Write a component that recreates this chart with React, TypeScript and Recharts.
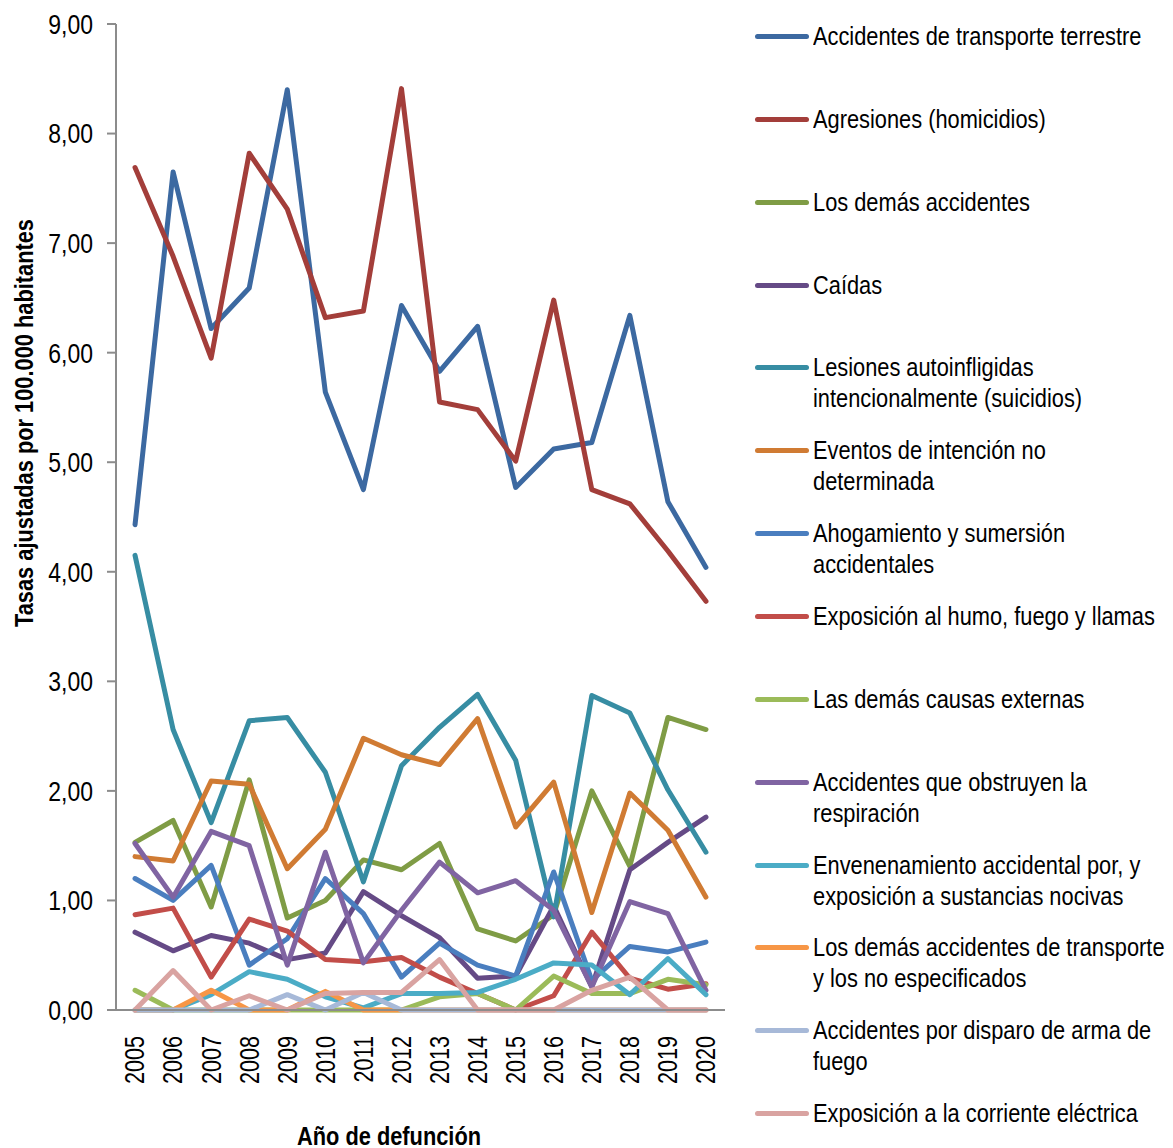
import React from 'react';
import { LineChart, Line, XAxis, YAxis, Label } from 'recharts';

const years = [2005, 2006, 2007, 2008, 2009, 2010, 2011, 2012, 2013, 2014, 2015, 2016, 2017, 2018, 2019, 2020];
const yTicks = [0, 1, 2, 3, 4, 5, 6, 7, 8, 9];

const transporte = [4.43, 7.65, 6.22, 6.59, 8.40, 5.64, 4.75, 6.43, 5.83, 6.24, 4.77, 5.12, 5.18, 6.34, 4.64, 4.04];
const agresiones = [7.69, 6.88, 5.95, 7.82, 7.31, 6.32, 6.38, 8.41, 5.55, 5.48, 5.01, 6.48, 4.75, 4.62, 4.19, 3.73];
const demasAccidentes = [1.53, 1.73, 0.94, 2.10, 0.84, 1.00, 1.37, 1.28, 1.52, 0.74, 0.63, 0.87, 2.00, 1.31, 2.67, 2.56];
const caidas = [0.71, 0.54, 0.68, 0.61, 0.46, 0.52, 1.08, 0.86, 0.66, 0.29, 0.31, 0.95, 0.21, 1.28, 1.53, 1.76];
const suicidios = [4.15, 2.56, 1.71, 2.64, 2.67, 2.17, 1.17, 2.23, 2.58, 2.88, 2.28, 0.85, 2.87, 2.71, 2.01, 1.44];
const eventos = [1.40, 1.36, 2.09, 2.06, 1.29, 1.65, 2.48, 2.33, 2.24, 2.66, 1.67, 2.08, 0.89, 1.98, 1.64, 1.03];
const ahogamiento = [1.20, 1.00, 1.32, 0.41, 0.65, 1.20, 0.88, 0.30, 0.61, 0.41, 0.31, 1.26, 0.27, 0.58, 0.53, 0.62];
const humo = [0.87, 0.93, 0.30, 0.83, 0.72, 0.46, 0.44, 0.48, 0.30, 0.15, 0.00, 0.13, 0.71, 0.29, 0.19, 0.24];
const demasCausas = [0.18, 0, 0, 0, 0, 0, 0, 0, 0.12, 0.15, 0, 0.31, 0.15, 0.15, 0.28, 0.23];
const obstruyen = [1.52, 1.03, 1.63, 1.50, 0.41, 1.44, 0.43, 0.91, 1.35, 1.07, 1.18, 0.91, 0.21, 0.99, 0.88, 0.18];
const envenenamiento = [0, 0, 0.14, 0.35, 0.28, 0.12, 0.02, 0.15, 0.15, 0.16, 0.28, 0.43, 0.41, 0.14, 0.47, 0.14];
const demasTransporte = [0, 0, 0.18, 0, 0, 0.17, 0, 0, 0, 0, 0, 0, 0, 0, 0, 0];
const disparo = [0, 0, 0, 0, 0.14, 0, 0.16, 0, 0, 0, 0, 0, 0, 0, 0, 0];
const corriente = [0, 0.36, 0, 0.13, 0, 0.15, 0.16, 0.16, 0.46, 0, 0, 0, 0.18, 0.30, 0, 0];

const seriesNames = [
  'Accidentes de transporte terrestre',
  'Agresiones (homicidios)',
  'Los demás accidentes',
  'Caídas',
  'Lesiones autoinfligidas intencionalmente (suicidios)',
  'Eventos de intención no determinada',
  'Ahogamiento y sumersión accidentales',
  'Exposición al humo, fuego y llamas',
  'Las demás causas externas',
  'Accidentes que obstruyen la respiración',
  'Envenenamiento accidental por, y exposición a sustancias nocivas',
  'Los demás accidentes de transporte y los no especificados',
  'Accidentes por disparo de arma de fuego',
  'Exposición a la corriente eléctrica',
];
const legendLines = [
  ['Accidentes de transporte terrestre'],
  ['Agresiones (homicidios)'],
  ['Los demás accidentes'],
  ['Caídas'],
  ['Lesiones autoinfligidas', 'intencionalmente (suicidios)'],
  ['Eventos de intención no', 'determinada'],
  ['Ahogamiento y sumersión', 'accidentales'],
  ['Exposición al humo, fuego y llamas'],
  ['Las demás causas externas'],
  ['Accidentes que obstruyen la', 'respiración'],
  ['Envenenamiento accidental por, y', 'exposición a sustancias nocivas'],
  ['Los demás accidentes de transporte', 'y los no especificados'],
  ['Accidentes por disparo de arma de', 'fuego'],
  ['Exposición a la corriente eléctrica'],
];
const seriesValues = [
  transporte, agresiones, demasAccidentes, caidas, suicidios, eventos, ahogamiento,
  humo, demasCausas, obstruyen, envenenamiento, demasTransporte, disparo, corriente,
];
const colors = [
  '#3C69A1', '#A33E3A', '#7F9C45', '#654A86', '#378DA3', '#D07B33', '#4A7EBF',
  '#C24D49', '#9BBB59', '#8064A2', '#4BACC6', '#F79646', '#A7B9D8', '#D9A3A1',
];

const data = years.map((year, i) => {
  const row: Record<string, number> = { year };
  seriesNames.forEach((name, s) => {
    row['s' + s] = seriesValues[s][i];
  });
  return row;
});

const boundaries = [...years.map((y) => y - 0.5), years[years.length - 1] + 0.5];

const FONT = "'Liberation Sans', Arial, sans-serif";
const NARROW = 0.82;
const AXIS_COLOR = '#8C8C8C';

const YearTick = (props: any) => {
  const { x, y, payload } = props;
  const ty = y + 18;
  return (
    <text
      x={0}
      y={0}
      transform={`translate(${x}, ${ty}) rotate(-90) scale(0.8, 1)`}
      textAnchor="end"
      dominantBaseline="central"
      fontFamily={FONT}
      fontSize={27}
      fill="#000"
    >
      {payload.value}
    </text>
  );
};

const fmt = (v: number) => v.toFixed(2).replace('.', ',');

const ValueTick = (props: any) => {
  const { x, y, payload } = props;
  return (
    <text
      x={0}
      y={0}
      transform={`translate(${x}, ${y}) scale(${NARROW}, 1)`}
      textAnchor="end"
      dominantBaseline="central"
      fontFamily={FONT}
      fontSize={28}
      fill="#000"
    >
      {fmt(payload.value)}
    </text>
  );
};

export default function App() {
  return (
    <div style={{ position: 'relative', width: 1165, height: 1140 }}>
      <LineChart
        width={1165}
        height={1140}
        data={data}
        margin={{ top: 16, right: 448, bottom: 0, left: 48 }}
      >
        <XAxis
          xAxisId="a"
          dataKey="year"
          type="number"
          domain={[boundaries[0], boundaries[boundaries.length - 1]]}
          ticks={boundaries}
          tick={false}
          tickSize={8}
          tickLine={{ stroke: AXIS_COLOR, strokeWidth: 2 }}
          axisLine={{ stroke: AXIS_COLOR, strokeWidth: 2 }}
          height={8}
          allowDecimals
        />
        <XAxis
          xAxisId="b"
          dataKey="year"
          type="number"
          domain={[boundaries[0], boundaries[boundaries.length - 1]]}
          ticks={years}
          interval={0}
          tick={<YearTick />}
          tickLine={false}
          axisLine={false}
          tickSize={0}
          tickMargin={0}
          height={130}
        >
          <Label
            content={() => (
              <text
                x={0}
                y={0}
                transform={`translate(381, 1128) scale(${NARROW}, 1)`}
                textAnchor="middle"
                dominantBaseline="central"
                fontFamily={FONT}
                fontWeight="bold"
                fontSize={26.6}
                fill="#000"
              >
                Año de defunción
              </text>
            )}
          />
        </XAxis>
        <YAxis
          domain={[0, 9]}
          ticks={yTicks}
          interval={0}
          width={60}
          tickSize={9}
          tickMargin={14}
          tickLine={{ stroke: AXIS_COLOR, strokeWidth: 2 }}
          axisLine={{ stroke: AXIS_COLOR, strokeWidth: 2 }}
          tick={<ValueTick />}
        >
          <Label
            content={() => (
              <text
                x={0}
                y={0}
                transform={`translate(16, 415) rotate(-90) scale(${NARROW}, 1)`}
                textAnchor="middle"
                dominantBaseline="central"
                fontFamily={FONT}
                fontWeight="bold"
                fontSize={26.6}
                fill="#000"
              >
                Tasas ajustadas por 100.000 habitantes
              </text>
            )}
          />
        </YAxis>
        {seriesNames.map((name, s) => (
          <Line
            key={name}
            xAxisId="b"
            type="linear"
            dataKey={'s' + s}
            name={name}
            stroke={colors[s]}
            strokeWidth={5}
            dot={false}
            activeDot={false}
            strokeLinejoin="round"
            strokeLinecap="round"
            isAnimationActive={false}
          />
        ))}
      </LineChart>
      <div style={{ position: 'absolute', left: 747, top: 0, width: 420, fontFamily: FONT, fontSize: 26.6, color: '#000' }}>
        {legendLines.map((lines, i) => (
          <div key={i} style={{ position: 'absolute', left: 0, top: 12 + i * 82.85, whiteSpace: 'nowrap' }}>
            <div style={{ position: 'absolute', left: 0, top: 14, width: 54, height: 5, borderRadius: 3, background: colors[i] }} />
            {lines.map((t, j) => (
              <div
                key={j}
                style={{
                  position: 'absolute',
                  left: 58,
                  top: j * 31,
                  lineHeight: '32px',
                  transform: `scaleX(${NARROW})`,
                  transformOrigin: 'left center',
                }}
              >
                {t}
              </div>
            ))}
          </div>
        ))}
      </div>
    </div>
  );
}
